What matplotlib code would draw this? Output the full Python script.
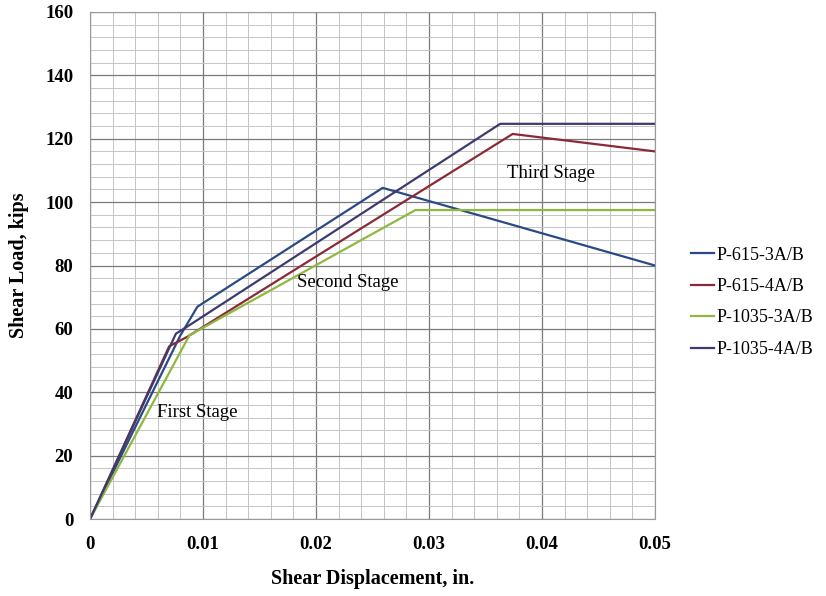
import numpy as np
import matplotlib.pyplot as plt
from matplotlib.ticker import MultipleLocator

plt.rcParams['font.family'] = ['Liberation Serif', 'DejaVu Serif']

# series (displacement in., load kips)
labels = ['P-615-3A/B', 'P-615-4A/B', 'P-1035-3A/B', 'P-1035-4A/B']
colors = ['#2a4a86', '#8a2a36', '#8fb840', '#3e3a70']

x_615_3 = [0, 0.0080, 0.0095, 0.0259, 0.05]
y_615_3 = [0, 58.0, 67.0, 104.5, 80.0]

x_615_4 = [0, 0.0070, 0.0086, 0.0374, 0.05]
y_615_4 = [0, 54.5, 57.5, 121.5, 116.0]

x_1035_3 = [0, 0.0088, 0.0288, 0.05]
y_1035_3 = [0, 58.0, 97.5, 97.5]

x_1035_4 = [0, 0.0076, 0.0085, 0.0363, 0.05]
y_1035_4 = [0, 58.5, 60.5, 124.7, 124.7]

xs = [x_615_3, x_615_4, x_1035_3, x_1035_4]
ys = [y_615_3, y_615_4, y_1035_3, y_1035_4]

stage_text = ['First Stage', 'Second Stage', 'Third Stage']
stage_x = [0.0095, 0.0228, 0.0408]
stage_y = [33.5, 74.5, 109.0]

fig = plt.figure(figsize=(8.26, 5.96), dpi=100)
ax = fig.add_axes([0.109, 0.129, 0.684, 0.851])

for x, y, lab, c in zip(xs, ys, labels, colors):
    ax.plot(x, y, color=c, lw=1.6, label=lab)

for t, tx, ty in zip(stage_text, stage_x, stage_y):
    ax.text(tx, ty, t, ha='center', va='center', fontsize=13.5)

ax.set_xlim(0, 0.05)
ax.set_ylim(0, 160)
ax.xaxis.set_major_locator(MultipleLocator(0.01))
ax.xaxis.set_minor_locator(MultipleLocator(0.002))
ax.yaxis.set_major_locator(MultipleLocator(20))
ax.yaxis.set_minor_locator(MultipleLocator(4))
ax.set_xticks([0, 0.01, 0.02, 0.03, 0.04, 0.05])
ax.set_xticklabels(['0', '0.01', '0.02', '0.03', '0.04', '0.05'])
ax.grid(which='major', color='#7a7a7a', lw=0.9)
ax.grid(which='minor', color='#c4c4c4', lw=0.7)
ax.set_axisbelow(True)
ax.tick_params(which='both', length=0, labelsize=13.5, pad=12)
for lbl in ax.get_xticklabels() + ax.get_yticklabels():
    lbl.set_fontweight('bold')
for s in ax.spines.values():
    s.set_color('#9a9a9a')

ax.set_xlabel('Shear Displacement, in.', fontsize=14.5, fontweight='bold', labelpad=12)
ax.set_ylabel('Shear Load, kips', fontsize=14.5, fontweight='bold', labelpad=12)

fig.legend(loc='center left', bbox_to_anchor=(0.836, 0.493), frameon=False,
           fontsize=13, handlelength=1.3, handletextpad=0.15, labelspacing=0.8,
           borderpad=0, borderaxespad=0)

fig.savefig('out.png', dpi=100)
